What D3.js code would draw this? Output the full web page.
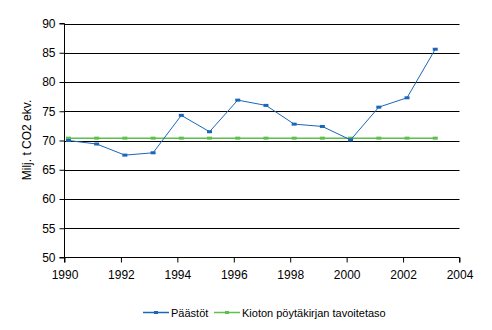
<!DOCTYPE html>
<html><head><meta charset="utf-8">
<script src="https://cdn.jsdelivr.net/npm/d3@7"></script>
<style>body{margin:0;background:#fff}svg{display:block;font-family:"Liberation Sans",Arial,sans-serif}</style>
</head><body>
<svg id="c" width="492" height="330"></svg>
<script>
const years = [1990,1991,1992,1993,1994,1995,1996,1997,1998,1999,2000,2001,2002,2003];
const emissions = [70.0,69.4,67.5,67.9,74.3,71.5,76.9,76.0,72.8,72.4,70.1,75.7,77.3,85.6];
const kyotoTarget = [70.4,70.4,70.4,70.4,70.4,70.4,70.4,70.4,70.4,70.4,70.4,70.4,70.4,70.4];
const xTicks = [1990,1992,1994,1996,1998,2000,2002,2004];
const yTicks = [50,55,60,65,70,75,80,85,90];
const seriesNames = ["Päästöt","Kioton pöytäkirjan tavoitetaso"];
const yLabel = "Milj. t CO2 ekv.";
const xOffset = 0.14; // markers sit slightly after the year tick

const svg = d3.select("#c");
const L=64.5, R=459.5, T=23.5, B=257.5;
const x = d3.scaleLinear().domain([1990,2004]).range([L,R]);
const y = d3.scaleLinear().domain([50,90]).range([B,T]);

// gridlines
svg.append("g").selectAll("line").data(yTicks.filter(d=>d>50)).join("line")
  .attr("x1",L).attr("x2",R).attr("y1",d=>Math.round(y(d))+0.5).attr("y2",d=>Math.round(y(d))+0.5)
  .attr("stroke","#000").attr("stroke-width",1);

// y axis
const ya = svg.append("g").attr("transform",`translate(${L},0)`)
  .call(d3.axisLeft(y).tickValues(yTicks).tickSize(5).tickPadding(4));
ya.select(".domain").attr("stroke","#000").attr("d",`M-5,${B}H0V${T}H-5`);
ya.selectAll(".tick line").attr("stroke","#000");
ya.selectAll("text").attr("font-size",12).attr("fill","#000").attr("font-family","Liberation Sans, Arial, sans-serif");

// x axis
const xa = svg.append("g").attr("transform",`translate(0,${B})`)
  .call(d3.axisBottom(x).tickValues(xTicks).tickFormat(d3.format("d")).tickSize(5).tickPadding(8));
xa.select(".domain").attr("stroke","#000").attr("d",`M${L},5V0H${R}V5`);
xa.selectAll(".tick line").attr("stroke","#000");
xa.selectAll("text").attr("font-size",12).attr("fill","#000").attr("font-family","Liberation Sans, Arial, sans-serif");

// y label
svg.append("text").attr("transform",`translate(31,140) rotate(-90)`).attr("text-anchor","middle")
  .attr("font-size",12).attr("fill","#000").text(yLabel);

const colors = ["#1c66b8","#5cc04a"];
function drawSeries(vals, color, width){
  const pts = years.map((yr,i)=>[x(yr+xOffset), y(vals[i])]);
  svg.append("path").attr("d",d3.line()(pts)).attr("fill","none").attr("stroke",color).attr("stroke-width",width);
  svg.append("g").selectAll("rect").data(pts).join("rect")
    .attr("x",d=>d[0]-2.5).attr("y",d=>d[1]-1.5).attr("width",5).attr("height",3).attr("fill",color);
}
drawSeries(kyotoTarget, colors[1], 1.5);
drawSeries(emissions, colors[0], 1);

// legend
const lg = svg.append("g");
const items = [{x:143,name:seriesNames[0],c:colors[0]},{x:214,name:seriesNames[1],c:colors[1]}];
items.forEach(it=>{
  lg.append("line").attr("x1",it.x).attr("x2",it.x+26).attr("y1",312.5).attr("y2",312.5).attr("stroke",it.c).attr("stroke-width",1.5);
  lg.append("rect").attr("x",it.x+11).attr("y",311).attr("width",4).attr("height",3).attr("fill",it.c);
  lg.append("text").attr("x",it.x+28).attr("y",316.5).attr("font-size",11).attr("fill","#000").text(it.name);
});
</script>
</body></html>
